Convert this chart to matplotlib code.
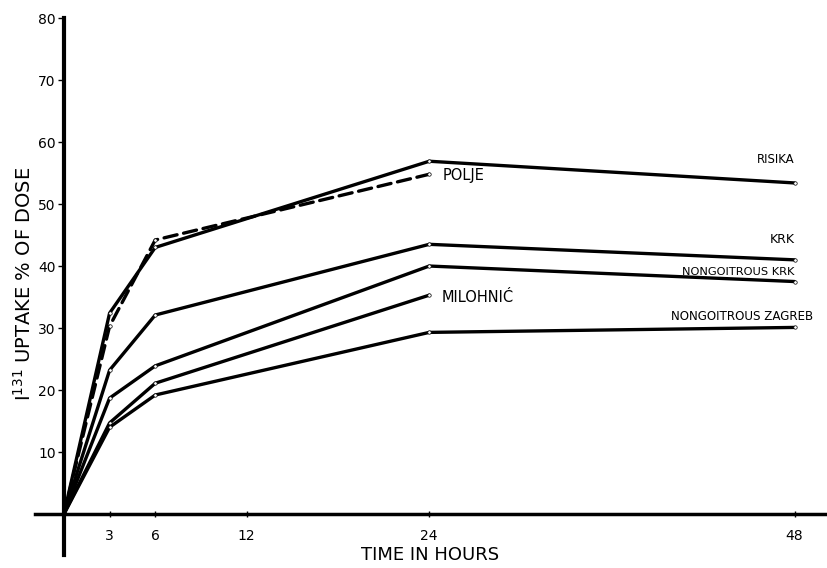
import matplotlib.pyplot as plt

hours = [0, 3, 6, 24, 48]
hours_short = [0, 3, 6, 24]

risika = [0, 32.4, 43.0, 56.9, 53.4]
polje = [0, 30.3, 44.2, 54.8]
krk = [0, 23.2, 32.1, 43.5, 41.0]
nongoitrous_krk = [0, 18.7, 23.9, 40.0, 37.5]
milohnic = [0, 14.7, 21.1, 35.3]
nongoitrous_zagreb = [0, 14.0, 19.2, 29.3, 30.1]

x_ticks = [3, 6, 12, 24, 48]
y_ticks = [10, 20, 30, 40, 50, 60, 70, 80]

plt.rcParams['font.family'] = ['DejaVu Sans']

fig = plt.figure(figsize=(8.28, 5.68), dpi=100)
ax = fig.add_axes([35 / 828, 1 - 555 / 568, 793 / 828, 537 / 568])

line_kw = dict(color='black', lw=2.4, solid_capstyle='round',
               marker='o', markersize=2.5, markerfacecolor='white',
               markeredgecolor='black', markeredgewidth=0.5)

ax.plot(hours, risika, **line_kw)
ax.plot(hours_short, polje, ls=(0, (4, 2)), dash_capstyle='round', **line_kw)
ax.plot(hours, krk, **line_kw)
ax.plot(hours, nongoitrous_krk, **line_kw)
ax.plot(hours_short, milohnic, **line_kw)
ax.plot(hours, nongoitrous_zagreb, **line_kw)

# series names written next to the curves
ax.text(48.0, 57.2, 'RISIKA', fontsize=8.5, ha='right', va='center')
ax.text(24.9, 54.6, 'POLJE', fontsize=10.5, va='center')
ax.text(48.0, 44.2, 'KRK', fontsize=9, ha='right', va='center')
ax.text(48.0, 39.1, 'NONGOITROUS KRK', fontsize=8.2, ha='right', va='center')
ax.text(24.8, 35.0, 'MILOHNIĆ', fontsize=10.5, va='center')
ax.text(39.9, 31.9, 'NONGOITROUS ZAGREB', fontsize=8.6, va='center')

ax.set_xlim(-1.9, 50.2)
ax.set_ylim(-6.6, 80)

for side in ['top', 'right']:
    ax.spines[side].set_visible(False)
ax.spines['left'].set_position(('data', 0))
ax.spines['bottom'].set_position(('data', 0))
ax.spines['left'].set_linewidth(3)
ax.spines['bottom'].set_linewidth(2.5)

ax.set_xticks(x_ticks)
ax.set_xticklabels([str(t) for t in x_ticks])
ax.set_yticks(y_ticks)
ax.set_yticklabels([str(t) for t in y_ticks])
ax.tick_params(axis='x', direction='inout', length=5, width=1, pad=8, labelsize=10)
ax.tick_params(axis='y', direction='out', length=4, width=1, pad=2, labelsize=10)

fig.text(430 / 828, 1 - 555 / 568, 'TIME IN HOURS', ha='center', va='center', fontsize=13)
fig.text(24 / 828, 0.5, r'I$^{131}$ UPTAKE % OF DOSE', ha='center', va='center',
         rotation=90, fontsize=14)

fig.savefig('out.png', dpi=100)
